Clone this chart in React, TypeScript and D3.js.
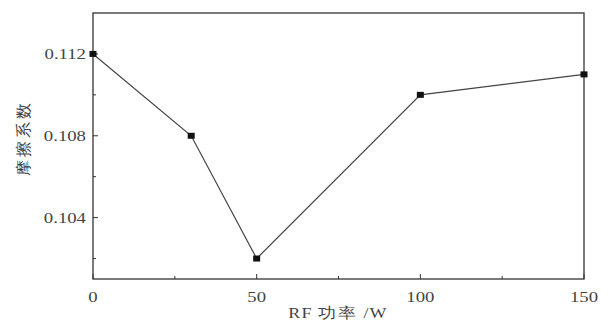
import React from "react";
import * as d3 from "d3";

const rfPower = [0, 30, 50, 100, 150];
const friction = [0.112, 0.108, 0.102, 0.110, 0.111];
const xTicks = [0, 50, 100, 150];
const xMinorTicks = [25, 75, 125];
const yTicks = [0.104, 0.108, 0.112];
const yMinorTicks = [0.102, 0.106, 0.110];
const xTitle = "RF 功率 /W";
const yTitle = "摩擦系数";

const W = 609, H = 326;
const L = 93, R = 584, T = 13, B = 279;

export default function App() {
  const x = d3.scaleLinear().domain([0, 150]).range([L, R]);
  const y = d3.scaleLinear().domain([0.101, 0.114]).range([B, T]);
  const line = d3.line<number>().x((_, i) => x(rfPower[i])).y((d) => y(d));
  const font = "'Liberation Serif', 'Times New Roman', serif";
  const stroke = "#333";
  const txt = "#444";
  return (
    <svg width={W} height={H} style={{ position: "absolute", left: 0, top: 0, background: "#fff" }}>
      <rect x={L} y={T} width={R - L} height={B - T} fill="none" stroke={stroke} strokeWidth={1.3} />
      {xTicks.map((t) => (
        <g key={"xt" + t}>
          <line x1={x(t)} x2={x(t)} y1={B} y2={B - 5} stroke={stroke} strokeWidth={1} />
          <text transform={`translate(${x(t)},302) scale(1.25,1)`} textAnchor="middle" fontFamily={font} fontSize={15} fill={txt}>{t}</text>
        </g>
      ))}
      {xMinorTicks.map((t) => (
        <line key={"xm" + t} x1={x(t)} x2={x(t)} y1={B} y2={B - 3} stroke={stroke} strokeWidth={1} />
      ))}
      {yTicks.map((t) => (
        <g key={"yt" + t}>
          <line x1={L} x2={L + 5} y1={y(t)} y2={y(t)} stroke={stroke} strokeWidth={1} />
          <text transform={`translate(86,${y(t) + 5}) scale(1.25,1)`} textAnchor="end" fontFamily={font} fontSize={15} fill={txt}>{t.toFixed(3)}</text>
        </g>
      ))}
      {yMinorTicks.map((t) => (
        <line key={"ym" + t} x1={L} x2={L + 3} y1={y(t)} y2={y(t)} stroke={stroke} strokeWidth={1} />
      ))}
      <path d={line(friction) || ""} fill="none" stroke="#444" strokeWidth={1.2} />
      {friction.map((v, i) => (
        <rect key={"m" + i} x={x(rfPower[i]) - 3.5} y={y(v) - 3} width={7} height={6} fill="#111" />
      ))}
      <text transform={`translate(338,318) scale(1.2,1)`} textAnchor="middle" fontFamily={font} fontSize={15} letterSpacing={1} fill={txt}>{xTitle}</text>
      <text transform={`translate(29, 138) rotate(-90)`} textAnchor="middle" fontFamily={font} fontSize={16} letterSpacing={3} fill={txt}>{yTitle}</text>
    </svg>
  );
}
